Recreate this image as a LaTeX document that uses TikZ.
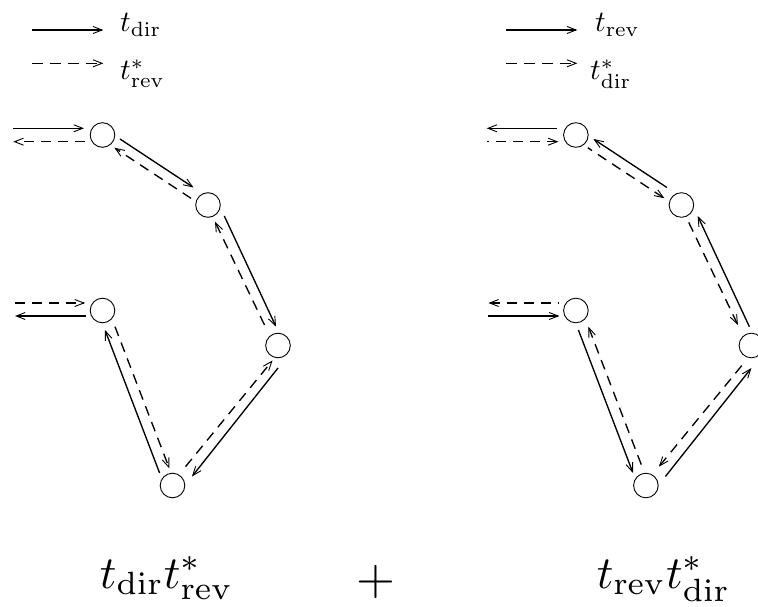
\documentclass[tikz,border=0pt]{standalone}
\usepackage{graphicx}
\usetikzlibrary{arrows.meta,calc}
\tikzset{
  ring/.style={circle,draw,line width=0.9pt,minimum size=24.6pt,inner sep=0pt},
  tipend/.style={line width=1.35pt,arrows={-{Straight Barb[length=9pt,width=7pt,line width=0.9pt]}}},
  tipstart/.style={line width=1.35pt,arrows={{Straight Barb[length=9pt,width=7pt,line width=0.9pt]}-}},
  dsh/.style={dash pattern=on 10pt off 7pt},
  lgtxt/.style={inner sep=0pt,anchor=base west},
  bigtxt/.style={inner sep=0pt,anchor=base},
}
\newcommand\lgscale[1]{\scalebox{2.95}{#1}}
\newcommand\bgscale[1]{\scalebox{4.6}{#1}}
\newcommand\drawdiagram[1]{%
  \node[ring] (#1A) at (102.5,135) {};
  \node[ring] (#1B) at (208,205) {};
  \node[ring] (#1C) at (278,345.5) {};
  \node[ring] (#1D) at (172.5,485.5) {};
  \node[ring] (#1E) at (102.5,310.5) {};
  \coordinate (#1inA) at (13.3,128.3);
  \coordinate (#1outA) at (13.3,141.7);
  \coordinate (#1inE) at (15,303);
  \coordinate (#1outE) at (15,316);
  % external lines at A
  \draw[sline] (#1inA) -- ($(#1A)+(-18.5,-6.7)$);
  \draw[dline] ($(#1A)+(-17.5,6.7)$) -- (#1outA);
  % A - B
  \draw[sline] ($(#1A)+(17.5,4)$) -- ($(#1B)+(-14.5,-17.5)$);
  \draw[dline] ($(#1B)+(-17,-6.7)$) -- ($(#1A)+(11.8,12.7)$);
  % B - C
  \draw[sline] ($(#1B)+(16.3,11)$) -- ($(#1C)+(-2,-18.8)$);
  \draw[dline] ($(#1C)+(-13.5,-20.5)$) -- ($(#1B)+(7,16.7)$);
  % C - D
  \draw[sline] ($(#1C)+(0,22.5)$) -- ($(#1D)+(19.5,-9)$);
  \draw[dline] ($(#1D)+(13,-18.8)$) -- ($(#1C)+(-5.5,15)$);
  % D - E
  \draw[sline] ($(#1D)+(-12.9,-12.5)$) -- ($(#1E)+(2.5,19.5)$);
  \draw[dline] ($(#1E)+(12.5,16.2)$) -- ($(#1D)+(-3.2,-17.2)$);
  % external lines at E
  \draw[dline] (#1inE) -- ($(#1E)+(-17.5,-7.5)$);
  \draw[sline] ($(#1E)+(-16.5,5.5)$) -- (#1outE);
}
\begin{document}
\begin{tikzpicture}[x=1pt,y=-1pt]
  \useasboundingbox (0,0) rectangle (758,607);
  \clip (0,0) rectangle (758,607);
  % legends
  \coordinate (ls1) at (31.7,30);   \coordinate (le1) at (103.3,30);
  \coordinate (ls2) at (31.7,63.3); \coordinate (le2) at (103.3,63.3);
  \coordinate (rs1) at (506,30);    \coordinate (re1) at (577.3,30);
  \coordinate (rs2) at (506,63.3);  \coordinate (re2) at (577.3,63.3);
  \draw[tipend] (ls1) -- (le1);
  \draw[tipend,dash pattern=on 11pt off 7pt] (ls2) -- (le2);
  \draw[tipend] (rs1) -- (re1);
  \draw[tipend,dash pattern=on 11pt off 7pt] (rs2) -- (re2);
  \node[lgtxt] (lt1) at (120,31.7) {\lgscale{$t_{\mathrm{dir}}$}};
  \node[lgtxt] (lt2) at (120,80) {\lgscale{$t^*_{\mathrm{rev}}$}};
  \node[lgtxt] (rt1) at (595,31.7) {\lgscale{$t_{\mathrm{rev}}$}};
  \node[lgtxt] (rt2) at (590,80) {\lgscale{$t^*_{\mathrm{dir}}$}};
  % left diagram
  \begin{scope}[sline/.style={tipend},dline/.style={tipend,dsh}]
    \drawdiagram{l}
  \end{scope}
  % right diagram
  \begin{scope}[shift={(473.4,0)},sline/.style={tipstart},dline/.style={tipstart,dsh}]
    \drawdiagram{r}
  \end{scope}
  % bottom formulas
  \node[bigtxt] (f1) at (166.7,588) {\bgscale{$t_{\mathrm{dir}}t^*_{\mathrm{rev}}$}};
  \node[inner sep=0pt,anchor=center] (pl) at (376,581.8) {\scalebox{5}{$+$}};
  \node[bigtxt] (f2) at (663.5,588) {\bgscale{$t_{\mathrm{rev}}t^*_{\mathrm{dir}}$}};
\end{tikzpicture}
\end{document}
